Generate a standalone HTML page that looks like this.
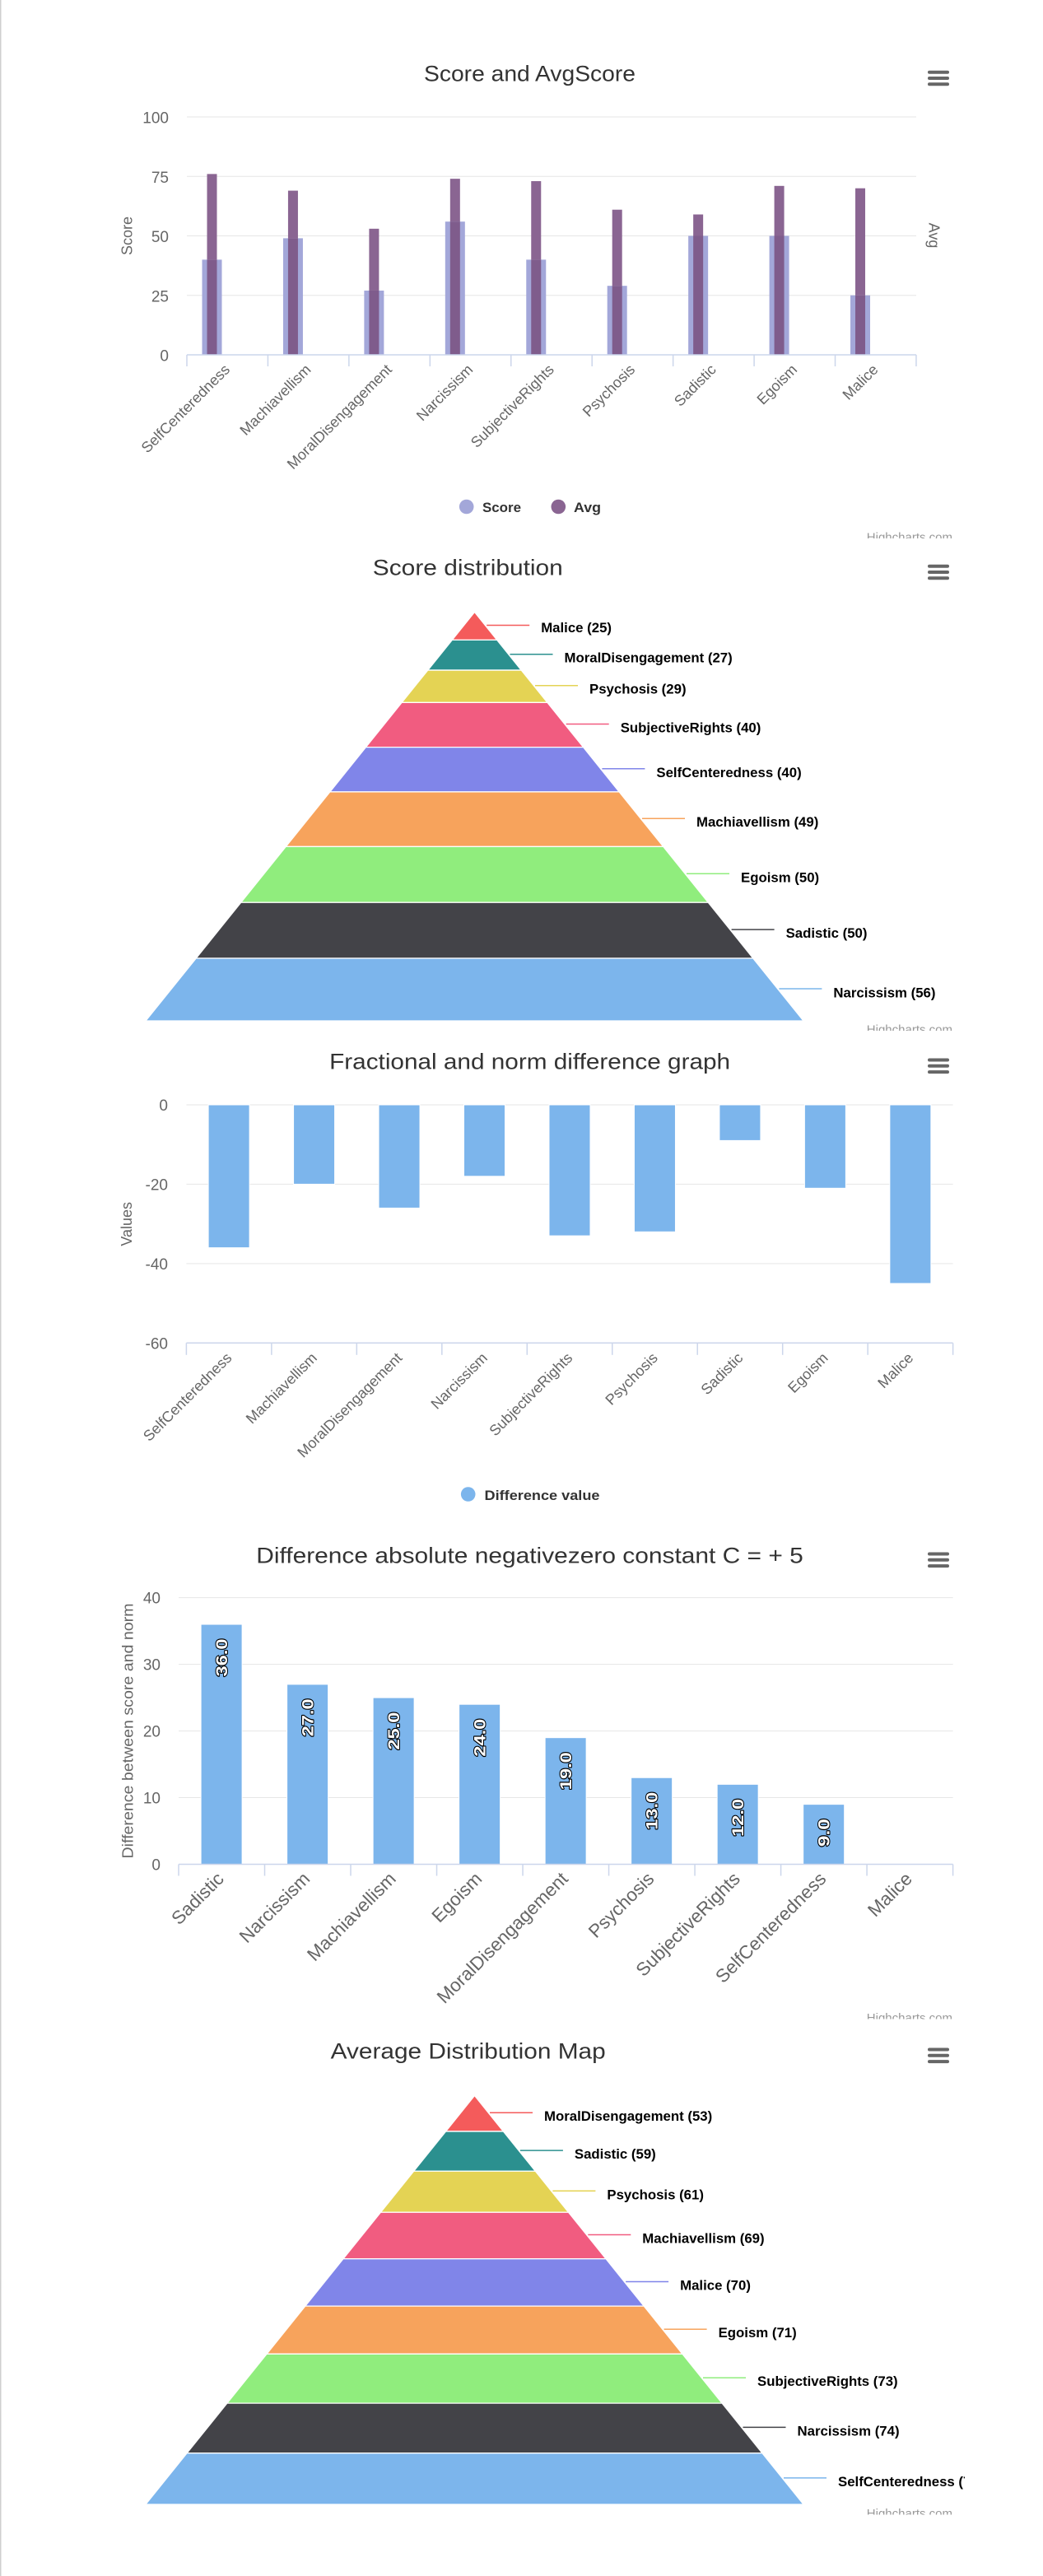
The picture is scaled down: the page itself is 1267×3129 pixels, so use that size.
<!DOCTYPE html>
<html>
<head>
<meta charset="utf-8">
<style>
html,body{margin:0;padding:0;background:#fff;}
body{width:1267px;height:3129px;overflow:hidden;}
svg{display:block;}
text{font-family:"Liberation Sans",Arial,sans-serif;}
.ttl{font-size:27px;fill:#333;}
.yl{font-size:19px;fill:#666;}
.xl{font-size:18px;fill:#666;}
.xl4{font-size:22.5px;fill:#666;}
.at{font-size:18px;fill:#666;}
.lg{font-size:17px;fill:#333;font-weight:bold;}
.pl{font-size:16.8px;fill:#000;font-weight:bold;}
.cr{font-size:15px;fill:#999;}
.dl{font-family:"DejaVu Sans",sans-serif;font-size:19px;font-weight:bold;fill:#fff;stroke:#000;stroke-width:2;paint-order:stroke;stroke-linejoin:round;}
.grid{stroke:#e6e6e6;stroke-width:1;}
.axis{stroke:#ccd6eb;stroke-width:1.5;}
.menu{stroke:#666;stroke-width:4;stroke-linecap:round;}
</style>
</head>
<body>
<svg width="1267" height="3129" viewBox="0 0 1267 3129" xmlns="http://www.w3.org/2000/svg">
<defs>
  <clipPath id="c1"><rect x="900" y="600" width="300" height="54"/></clipPath>
  <clipPath id="c2"><rect x="900" y="1200" width="300" height="52"/></clipPath>
  <clipPath id="c4"><rect x="900" y="2400" width="300" height="52.5"/></clipPath>
  <clipPath id="c5"><rect x="900" y="3000" width="300" height="54.5"/></clipPath>
  <clipPath id="cl5"><rect x="0" y="2900" width="1172" height="200"/></clipPath>
</defs>
<rect x="0" y="0" width="1267" height="3129" fill="#fff"/>
<rect x="0" y="0" width="1.5" height="3129" fill="#cfcfcf"/>

<!-- ============ CHART 1 ============ -->
<text class="ttl" x="643.5" y="98.5" text-anchor="middle" textLength="257" lengthAdjust="spacingAndGlyphs">Score and AvgScore</text>
<line class="menu" x1="1129" y1="87.7" x2="1151" y2="87.7"/>
<line class="menu" x1="1129" y1="95" x2="1151" y2="95"/>
<line class="menu" x1="1129" y1="102.3" x2="1151" y2="102.3"/>

<line class="grid" x1="227" y1="142" x2="1113" y2="142"/>
<line class="grid" x1="227" y1="214.25" x2="1113" y2="214.25"/>
<line class="grid" x1="227" y1="286.5" x2="1113" y2="286.5"/>
<line class="grid" x1="227" y1="358.75" x2="1113" y2="358.75"/>

<text class="yl" x="205" y="149.5" text-anchor="end">100</text>
<text class="yl" x="205" y="221.75" text-anchor="end">75</text>
<text class="yl" x="205" y="294" text-anchor="end">50</text>
<text class="yl" x="205" y="366.25" text-anchor="end">25</text>
<text class="yl" x="205" y="438.5" text-anchor="end">0</text>

<text class="at" transform="translate(160.5,286.5) rotate(-90)" text-anchor="middle">Score</text>
<text class="at" transform="translate(1128.5,286) rotate(90)" text-anchor="middle">Avg</text>

<!-- score bars -->
<g fill="#a3a7d9">
<rect x="245.5" y="315.4" width="24" height="115.6"/>
<rect x="343.94" y="289.39" width="24" height="141.61"/>
<rect x="442.38" y="352.97" width="24" height="78.03"/>
<rect x="540.82" y="269.16" width="24" height="161.84"/>
<rect x="639.26" y="315.4" width="24" height="115.6"/>
<rect x="737.7" y="347.19" width="24" height="83.81"/>
<rect x="836.14" y="286.5" width="24" height="144.5"/>
<rect x="934.58" y="286.5" width="24" height="144.5"/>
<rect x="1033.02" y="358.75" width="24" height="72.25"/>
</g>
<!-- avg bars (above score) -->
<g fill="#8a6592">
<rect x="251.5" y="211.36" width="12" height="104.04"/>
<rect x="349.94" y="231.59" width="12" height="57.8"/>
<rect x="448.38" y="277.83" width="12" height="75.14"/>
<rect x="546.82" y="217.14" width="12" height="52.02"/>
<rect x="645.26" y="220.03" width="12" height="95.37"/>
<rect x="743.7" y="254.71" width="12" height="92.48"/>
<rect x="842.14" y="260.49" width="12" height="26.01"/>
<rect x="940.58" y="225.81" width="12" height="60.69"/>
<rect x="1039.02" y="228.7" width="12" height="130.05"/>
</g>
<!-- avg bars overlap -->
<g fill="#7f5c8c">
<rect x="251.5" y="315.4" width="12" height="115.6"/>
<rect x="349.94" y="289.39" width="12" height="141.61"/>
<rect x="448.38" y="352.97" width="12" height="78.03"/>
<rect x="546.82" y="269.16" width="12" height="161.84"/>
<rect x="645.26" y="315.4" width="12" height="115.6"/>
<rect x="743.7" y="347.19" width="12" height="83.81"/>
<rect x="842.14" y="286.5" width="12" height="144.5"/>
<rect x="940.58" y="286.5" width="12" height="144.5"/>
<rect x="1039.02" y="358.75" width="12" height="72.25"/>
</g>

<line class="axis" x1="227" y1="431" x2="1113" y2="431"/>
<g class="axis">
<line x1="227" y1="431" x2="227" y2="445"/>
<line x1="325.44" y1="431" x2="325.44" y2="445"/>
<line x1="423.88" y1="431" x2="423.88" y2="445"/>
<line x1="522.32" y1="431" x2="522.32" y2="445"/>
<line x1="620.76" y1="431" x2="620.76" y2="445"/>
<line x1="719.2" y1="431" x2="719.2" y2="445"/>
<line x1="817.64" y1="431" x2="817.64" y2="445"/>
<line x1="916.08" y1="431" x2="916.08" y2="445"/>
<line x1="1014.52" y1="431" x2="1014.52" y2="445"/>
<line x1="1112.96" y1="431" x2="1112.96" y2="445"/>
</g>

<g class="xl" text-anchor="end">
<text transform="translate(280.2,450) rotate(-45)">SelfCenteredness</text>
<text transform="translate(378.7,450) rotate(-45)">Machiavellism</text>
<text transform="translate(477.1,450) rotate(-45)">MoralDisengagement</text>
<text transform="translate(575.5,450) rotate(-45)">Narcissism</text>
<text transform="translate(674,450) rotate(-45)">SubjectiveRights</text>
<text transform="translate(772.4,450) rotate(-45)">Psychosis</text>
<text transform="translate(870.9,450) rotate(-45)">Sadistic</text>
<text transform="translate(969.3,450) rotate(-45)">Egoism</text>
<text transform="translate(1067.7,450) rotate(-45)">Malice</text>
</g>

<circle cx="566.7" cy="615.5" r="8.8" fill="#a3a7d9"/>
<text class="lg" x="586" y="621.8" textLength="47" lengthAdjust="spacingAndGlyphs">Score</text>
<circle cx="678.3" cy="615.5" r="8.8" fill="#8a6592"/>
<text class="lg" x="697" y="621.8" textLength="33" lengthAdjust="spacingAndGlyphs">Avg</text>

<g clip-path="url(#c1)"><text class="cr" x="1157" y="657.7" text-anchor="end">Highcharts.com</text></g>

<!-- ============ CHART 2 ============ -->
<text class="ttl" x="568.3" y="698.3" text-anchor="middle" textLength="231" lengthAdjust="spacingAndGlyphs">Score distribution</text>
<line class="menu" x1="1129" y1="687.7" x2="1151" y2="687.7"/>
<line class="menu" x1="1129" y1="695" x2="1151" y2="695"/>
<line class="menu" x1="1129" y1="702.3" x2="1151" y2="702.3"/>

<g stroke="#fff" stroke-width="1.3">
<polygon fill="#f45b5b" points="576.5,743.5 603.79,777.41 549.21,777.41"/>
<polygon fill="#2b908f" points="549.21,777.41 603.79,777.41 633.26,814.04 519.74,814.04"/>
<polygon fill="#e4d354" points="519.74,814.04 633.26,814.04 664.91,853.38 488.09,853.38"/>
<polygon fill="#f15c80" points="488.09,853.38 664.91,853.38 708.57,907.64 444.43,907.64"/>
<polygon fill="#8085e9" points="444.43,907.64 708.57,907.64 752.24,961.91 400.76,961.91"/>
<polygon fill="#f7a35c" points="400.76,961.91 752.24,961.91 805.72,1028.38 347.28,1028.38"/>
<polygon fill="#90ed7d" points="347.28,1028.38 805.72,1028.38 860.3,1096.21 292.7,1096.21"/>
<polygon fill="#434348" points="292.7,1096.21 860.3,1096.21 914.87,1164.03 238.13,1164.03"/>
<polygon fill="#7cb5ec" points="238.13,1164.03 914.87,1164.03 976,1240 177,1240"/>
</g>
<g stroke-width="1.5">
<line x1="591.2" y1="759.5" x2="643.2" y2="759.5" stroke="#f45b5b"/>
<line x1="619.5" y1="794.7" x2="671.5" y2="794.7" stroke="#2b908f"/>
<line x1="650" y1="832.7" x2="702" y2="832.7" stroke="#e4d354"/>
<line x1="687.7" y1="879.5" x2="739.7" y2="879.5" stroke="#f15c80"/>
<line x1="731.4" y1="933.8" x2="783.4" y2="933.8" stroke="#8085e9"/>
<line x1="780" y1="994.2" x2="832" y2="994.2" stroke="#f7a35c"/>
<line x1="834" y1="1061.3" x2="886" y2="1061.3" stroke="#90ed7d"/>
<line x1="888.6" y1="1129.1" x2="940.6" y2="1129.1" stroke="#434348"/>
<line x1="946.4" y1="1201" x2="998.4" y2="1201" stroke="#7cb5ec"/>
</g>
<g class="pl">
<text x="657.2" y="768">Malice (25)</text>
<text x="685.5" y="804.7">MoralDisengagement (27)</text>
<text x="716" y="842.7">Psychosis (29)</text>
<text x="753.7" y="889.5">SubjectiveRights (40)</text>
<text x="797.4" y="943.8">SelfCenteredness (40)</text>
<text x="846" y="1004.2">Machiavellism (49)</text>
<text x="900" y="1071.3">Egoism (50)</text>
<text x="954.6" y="1139.1">Sadistic (50)</text>
<text x="1012.4" y="1211.5">Narcissism (56)</text>
</g>
<g clip-path="url(#c2)"><text class="cr" x="1157" y="1255.7" text-anchor="end">Highcharts.com</text></g>

<!-- ============ CHART 3 ============ -->
<text class="ttl" x="643.6" y="1298.3" text-anchor="middle" textLength="487" lengthAdjust="spacingAndGlyphs">Fractional and norm difference graph</text>
<line class="menu" x1="1129" y1="1287.5" x2="1151" y2="1287.5"/>
<line class="menu" x1="1129" y1="1294.8" x2="1151" y2="1294.8"/>
<line class="menu" x1="1129" y1="1302.1" x2="1151" y2="1302.1"/>

<line class="grid" x1="226.4" y1="1342" x2="1157.6" y2="1342"/>
<line class="grid" x1="226.4" y1="1438.4" x2="1157.6" y2="1438.4"/>
<line class="grid" x1="226.4" y1="1534.9" x2="1157.6" y2="1534.9"/>

<text class="yl" x="204" y="1349" text-anchor="end">0</text>
<text class="yl" x="204" y="1445.4" text-anchor="end">-20</text>
<text class="yl" x="204" y="1541.9" text-anchor="end">-40</text>
<text class="yl" x="204" y="1638.3" text-anchor="end">-60</text>

<text class="at" transform="translate(160,1486.8) rotate(-90)" text-anchor="middle">Values</text>

<g fill="#7cb5ec" stroke="#fff" stroke-width="1">
<rect x="253.1" y="1342" width="50" height="173.6"/>
<rect x="356.57" y="1342" width="50" height="96.4"/>
<rect x="460.04" y="1342" width="50" height="125.4"/>
<rect x="563.51" y="1342" width="50" height="86.8"/>
<rect x="666.98" y="1342" width="50" height="159.1"/>
<rect x="770.45" y="1342" width="50" height="154.3"/>
<rect x="873.92" y="1342" width="50" height="43.4"/>
<rect x="977.39" y="1342" width="50" height="101.3"/>
<rect x="1080.86" y="1342" width="50" height="217"/>
</g>

<line class="axis" x1="226.4" y1="1631.3" x2="1157.6" y2="1631.3"/>
<g class="axis">
<line x1="226.4" y1="1631.3" x2="226.4" y2="1645.8"/>
<line x1="329.87" y1="1631.3" x2="329.87" y2="1645.8"/>
<line x1="433.34" y1="1631.3" x2="433.34" y2="1645.8"/>
<line x1="536.81" y1="1631.3" x2="536.81" y2="1645.8"/>
<line x1="640.28" y1="1631.3" x2="640.28" y2="1645.8"/>
<line x1="743.75" y1="1631.3" x2="743.75" y2="1645.8"/>
<line x1="847.22" y1="1631.3" x2="847.22" y2="1645.8"/>
<line x1="950.69" y1="1631.3" x2="950.69" y2="1645.8"/>
<line x1="1054.16" y1="1631.3" x2="1054.16" y2="1645.8"/>
<line x1="1157.63" y1="1631.3" x2="1157.63" y2="1645.8"/>
</g>

<g class="xl" text-anchor="end">
<text transform="translate(282.6,1650.5) rotate(-45)">SelfCenteredness</text>
<text transform="translate(386.1,1650.5) rotate(-45)">Machiavellism</text>
<text transform="translate(489.6,1650.5) rotate(-45)">MoralDisengagement</text>
<text transform="translate(593.1,1650.5) rotate(-45)">Narcissism</text>
<text transform="translate(696.5,1650.5) rotate(-45)">SubjectiveRights</text>
<text transform="translate(800,1650.5) rotate(-45)">Psychosis</text>
<text transform="translate(903.5,1650.5) rotate(-45)">Sadistic</text>
<text transform="translate(1006.9,1650.5) rotate(-45)">Egoism</text>
<text transform="translate(1110.4,1650.5) rotate(-45)">Malice</text>
</g>

<circle cx="568.7" cy="1815" r="8.8" fill="#7cb5ec"/>
<text class="lg" x="588.5" y="1822" textLength="140" lengthAdjust="spacingAndGlyphs">Difference value</text>

<!-- ============ CHART 4 ============ -->
<text class="ttl" x="643.5" y="1898.3" text-anchor="middle" textLength="664.5" lengthAdjust="spacingAndGlyphs">Difference absolute negativezero constant C = + 5</text>
<line class="menu" x1="1129" y1="1887.5" x2="1151" y2="1887.5"/>
<line class="menu" x1="1129" y1="1894.8" x2="1151" y2="1894.8"/>
<line class="menu" x1="1129" y1="1902.1" x2="1151" y2="1902.1"/>

<line class="grid" x1="217" y1="1940.66" x2="1157.6" y2="1940.66"/>
<line class="grid" x1="217" y1="2021.62" x2="1157.6" y2="2021.62"/>
<line class="grid" x1="217" y1="2102.58" x2="1157.6" y2="2102.58"/>
<line class="grid" x1="217" y1="2183.54" x2="1157.6" y2="2183.54"/>

<text class="yl" x="195" y="1947.7" text-anchor="end">40</text>
<text class="yl" x="195" y="2028.6" text-anchor="end">30</text>
<text class="yl" x="195" y="2109.6" text-anchor="end">20</text>
<text class="yl" x="195" y="2190.5" text-anchor="end">10</text>
<text class="yl" x="195" y="2271.5" text-anchor="end">0</text>

<text class="at" transform="translate(161.5,2102.5) rotate(-90)" text-anchor="middle" textLength="310" lengthAdjust="spacingAndGlyphs">Difference between score and norm</text>

<g fill="#7cb5ec" stroke="#fff" stroke-width="1">
<rect x="244.1" y="1973.04" width="50" height="291.46"/>
<rect x="348.61" y="2045.91" width="50" height="218.59"/>
<rect x="453.12" y="2062.1" width="50" height="202.4"/>
<rect x="557.63" y="2070.2" width="50" height="194.3"/>
<rect x="662.14" y="2110.68" width="50" height="153.82"/>
<rect x="766.65" y="2159.25" width="50" height="105.25"/>
<rect x="871.16" y="2167.35" width="50" height="97.15"/>
<rect x="975.67" y="2191.64" width="50" height="72.86"/>
</g>

<g class="dl" text-anchor="end">
<text transform="translate(275.75,1990.5) rotate(-90)" textLength="46" lengthAdjust="spacingAndGlyphs">36.0</text>
<text transform="translate(380.26,2063.4) rotate(-90)" textLength="46" lengthAdjust="spacingAndGlyphs">27.0</text>
<text transform="translate(484.77,2079.6) rotate(-90)" textLength="46" lengthAdjust="spacingAndGlyphs">25.0</text>
<text transform="translate(589.28,2087.7) rotate(-90)" textLength="46" lengthAdjust="spacingAndGlyphs">24.0</text>
<text transform="translate(693.79,2128.2) rotate(-90)" textLength="46" lengthAdjust="spacingAndGlyphs">19.0</text>
<text transform="translate(798.3,2176.75) rotate(-90)" textLength="46" lengthAdjust="spacingAndGlyphs">13.0</text>
<text transform="translate(902.81,2184.85) rotate(-90)" textLength="46" lengthAdjust="spacingAndGlyphs">12.0</text>
<text transform="translate(1007.32,2209.1) rotate(-90)" textLength="34" lengthAdjust="spacingAndGlyphs">9.0</text>
</g>

<line class="axis" x1="217" y1="2264.5" x2="1157.6" y2="2264.5"/>
<g class="axis">
<line x1="217" y1="2264.5" x2="217" y2="2278.5"/>
<line x1="321.51" y1="2264.5" x2="321.51" y2="2278.5"/>
<line x1="426.02" y1="2264.5" x2="426.02" y2="2278.5"/>
<line x1="530.53" y1="2264.5" x2="530.53" y2="2278.5"/>
<line x1="635.04" y1="2264.5" x2="635.04" y2="2278.5"/>
<line x1="739.55" y1="2264.5" x2="739.55" y2="2278.5"/>
<line x1="844.06" y1="2264.5" x2="844.06" y2="2278.5"/>
<line x1="948.57" y1="2264.5" x2="948.57" y2="2278.5"/>
<line x1="1053.08" y1="2264.5" x2="1053.08" y2="2278.5"/>
<line x1="1157.59" y1="2264.5" x2="1157.59" y2="2278.5"/>
</g>

<g class="xl4" text-anchor="end">
<text transform="translate(273.25,2283.5) rotate(-45)">Sadistic</text>
<text transform="translate(377.76,2283.5) rotate(-45)">Narcissism</text>
<text transform="translate(482.27,2283.5) rotate(-45)">Machiavellism</text>
<text transform="translate(586.78,2283.5) rotate(-45)">Egoism</text>
<text transform="translate(691.29,2283.5) rotate(-45)">MoralDisengagement</text>
<text transform="translate(795.8,2283.5) rotate(-45)">Psychosis</text>
<text transform="translate(900.31,2283.5) rotate(-45)">SubjectiveRights</text>
<text transform="translate(1004.82,2283.5) rotate(-45)">SelfCenteredness</text>
<text transform="translate(1109.33,2283.5) rotate(-45)">Malice</text>
</g>

<g clip-path="url(#c4)"><text class="cr" x="1157" y="2456.2" text-anchor="end">Highcharts.com</text></g>

<!-- ============ CHART 5 ============ -->
<text class="ttl" x="568.7" y="2500.5" text-anchor="middle" textLength="334" lengthAdjust="spacingAndGlyphs">Average Distribution Map</text>
<line class="menu" x1="1129" y1="2489.5" x2="1151" y2="2489.5"/>
<line class="menu" x1="1129" y1="2496.8" x2="1151" y2="2496.8"/>
<line class="menu" x1="1129" y1="2504.1" x2="1151" y2="2504.1"/>

<g stroke="#fff" stroke-width="1.3">
<polygon fill="#f45b5b" points="576.5,2545.5 611.44,2588.92 541.56,2588.92"/>
<polygon fill="#2b908f" points="541.56,2588.92 611.44,2588.92 650.33,2637.26 502.67,2637.26"/>
<polygon fill="#e4d354" points="502.67,2637.26 650.33,2637.26 690.55,2687.24 462.45,2687.24"/>
<polygon fill="#f15c80" points="462.45,2687.24 690.55,2687.24 736.03,2743.77 416.97,2743.77"/>
<polygon fill="#8085e9" points="416.97,2743.77 736.03,2743.77 782.18,2801.12 370.82,2801.12"/>
<polygon fill="#f7a35c" points="370.82,2801.12 782.18,2801.12 828.99,2859.3 324.01,2859.3"/>
<polygon fill="#90ed7d" points="324.01,2859.3 828.99,2859.3 877.11,2919.1 275.89,2919.1"/>
<polygon fill="#434348" points="275.89,2919.1 877.11,2919.1 925.9,2979.73 227.1,2979.73"/>
<polygon fill="#7cb5ec" points="227.1,2979.73 925.9,2979.73 976,3042 177,3042"/>
</g>
<g stroke-width="1.5">
<line x1="595" y1="2566.2" x2="647" y2="2566.2" stroke="#f45b5b"/>
<line x1="631.9" y1="2612.1" x2="683.9" y2="2612.1" stroke="#2b908f"/>
<line x1="671.4" y1="2661.25" x2="723.4" y2="2661.25" stroke="#e4d354"/>
<line x1="714.3" y1="2714.5" x2="766.3" y2="2714.5" stroke="#f15c80"/>
<line x1="760.1" y1="2771.45" x2="812.1" y2="2771.45" stroke="#8085e9"/>
<line x1="806.6" y1="2829.2" x2="858.6" y2="2829.2" stroke="#f7a35c"/>
<line x1="854" y1="2888.2" x2="906" y2="2888.2" stroke="#90ed7d"/>
<line x1="902.5" y1="2948.4" x2="954.5" y2="2948.4" stroke="#434348"/>
<line x1="952" y1="3009.9" x2="1004" y2="3009.9" stroke="#7cb5ec"/>
</g>
<g class="pl">
<text x="661" y="2576.2">MoralDisengagement (53)</text>
<text x="697.9" y="2622.1">Sadistic (59)</text>
<text x="737.4" y="2671.25">Psychosis (61)</text>
<text x="780.3" y="2724.5">Machiavellism (69)</text>
<text x="826.1" y="2781.45">Malice (70)</text>
<text x="872.6" y="2839.2">Egoism (71)</text>
<text x="920" y="2898.2">SubjectiveRights (73)</text>
<text x="968.5" y="2958.4">Narcissism (74)</text>
<g clip-path="url(#cl5)"><text x="1018" y="3019.9">SelfCenteredness (76)</text></g>
</g>
<g clip-path="url(#c5)"><text class="cr" x="1157" y="3058.1" text-anchor="end">Highcharts.com</text></g>
</svg>
</body>
</html>
